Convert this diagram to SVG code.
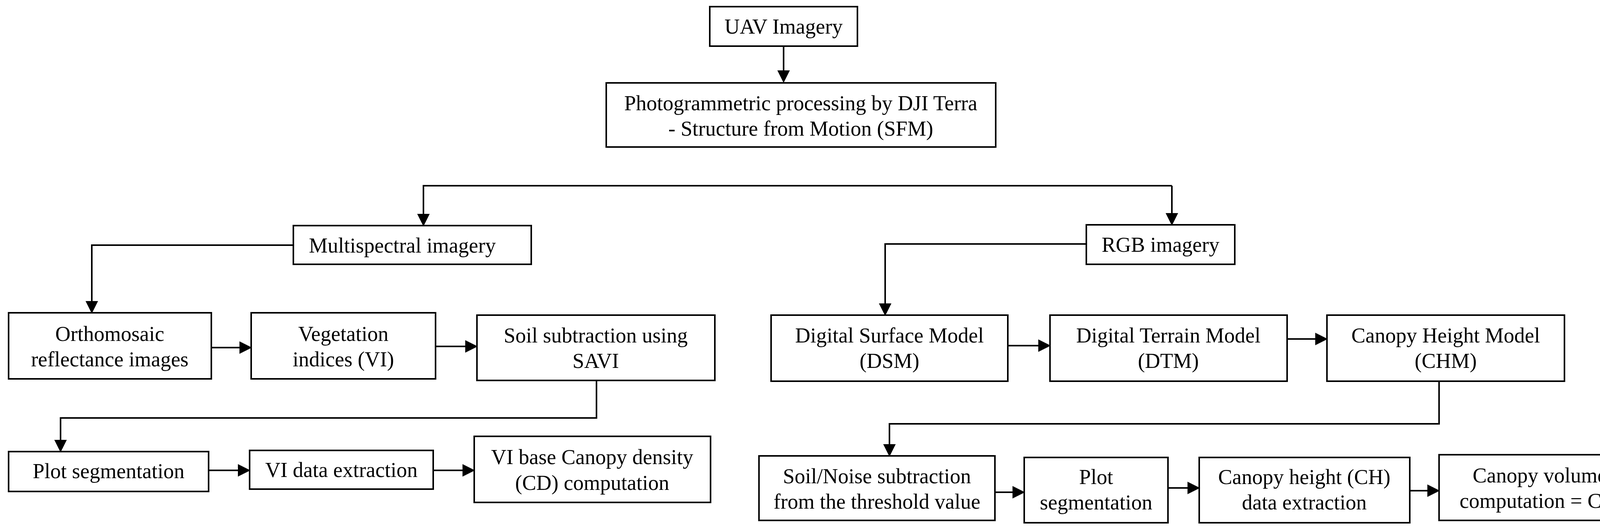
<svg xmlns="http://www.w3.org/2000/svg" width="4336" height="1353" viewBox="0 0 4336 1353">
<style>
.b{fill:#fff;stroke:#000;stroke-width:4}
.t{font-family:"Liberation Serif","Times New Roman",serif;font-size:54px;fill:#000;text-anchor:middle;dominant-baseline:central}
.c{fill:none;stroke:#000;stroke-width:4}
</style>
<defs><marker id="a" markerWidth="8" markerHeight="8" refX="7" refY="4" orient="auto" markerUnits="strokeWidth"><path d="M0,0L8,4L0,8Z" fill="#000"/></marker></defs>
<rect width="4336" height="1353" fill="#fff"/>
<g id="connectors">
<path class="c" marker-end="url(#a)" d="M2006,119V208"/>
<path class="c" marker-end="url(#a)" d="M3000,475H1084V575"/>
<path class="c" marker-end="url(#a)" d="M3000,475V573"/>
<path class="c" marker-end="url(#a)" d="M751,627H235V798"/>
<path class="c" marker-end="url(#a)" d="M541,889H641"/>
<path class="c" marker-end="url(#a)" d="M1115,886H1219"/>
<path class="c" marker-end="url(#a)" d="M1527,973V1069H155V1153"/>
<path class="c" marker-end="url(#a)" d="M534,1203H637"/>
<path class="c" marker-end="url(#a)" d="M1109,1203H1212"/>
<path class="c" marker-end="url(#a)" d="M2781,624H2266V804"/>
<path class="c" marker-end="url(#a)" d="M2580,884H2686"/>
<path class="c" marker-end="url(#a)" d="M3295,867H3395"/>
<path class="c" marker-end="url(#a)" d="M3684,975V1084H2277V1164"/>
<path class="c" marker-end="url(#a)" d="M2547,1259H2620"/>
<path class="c" marker-end="url(#a)" d="M2990,1248H3068"/>
<path class="c" marker-end="url(#a)" d="M3609,1255H3682"/>
</g>
<g id="uav"><rect class="b" x="1817" y="17" width="378" height="101"/><text class="t" x="2006" y="68">UAV Imagery</text></g>
<g id="photo"><rect class="b" x="1552" y="212" width="997" height="164"/><text class="t" x="2050" y="264">Photogrammetric processing by DJI Terra</text><text class="t" x="2050" y="329">- Structure from Motion (SFM)</text></g>
<g id="multi"><rect class="b" x="751" y="577" width="609" height="99"/><text class="t" x="1030" y="628">Multispectral imagery</text></g>
<g id="rgb"><rect class="b" x="2781" y="575" width="380" height="101"/><text class="t" x="2971" y="626">RGB imagery</text></g>
<g id="ortho"><rect class="b" x="22" y="800" width="519" height="169"/><text class="t" x="281" y="854">Orthomosaic</text><text class="t" x="281" y="919">reflectance images</text></g>
<g id="vi"><rect class="b" x="643" y="800" width="472" height="169"/><text class="t" x="879" y="854">Vegetation</text><text class="t" x="879" y="919">indices (VI)</text></g>
<g id="savi"><rect class="b" x="1221" y="806" width="609" height="167"/><text class="t" x="1525" y="858">Soil subtraction using</text><text class="t" x="1525" y="923">SAVI</text></g>
<g id="plot1"><rect class="b" x="22" y="1155" width="512" height="102"/><text class="t" x="278" y="1205">Plot segmentation</text></g>
<g id="vide"><rect class="b" x="639" y="1152" width="470" height="99"/><text class="t" x="874" y="1202">VI data extraction</text></g>
<g id="cd"><rect class="b" x="1214" y="1116" width="605" height="169"/><text class="t" x="1516" y="1169">VI base Canopy density</text><text class="t" x="1516" y="1235">(CD) computation</text></g>
<g id="dsm"><rect class="b" x="1974" y="806" width="606" height="169"/><text class="t" x="2277" y="858">Digital Surface Model</text><text class="t" x="2277" y="923">(DSM)</text></g>
<g id="dtm"><rect class="b" x="2688" y="806" width="607" height="169"/><text class="t" x="2991" y="858">Digital Terrain Model</text><text class="t" x="2991" y="923">(DTM)</text></g>
<g id="chm"><rect class="b" x="3397" y="806" width="608" height="169"/><text class="t" x="3701" y="858">Canopy Height Model</text><text class="t" x="3701" y="923">(CHM)</text></g>
<g id="noise"><rect class="b" x="1943" y="1166" width="604" height="165"/><text class="t" x="2245" y="1218">Soil/Noise subtraction</text><text class="t" x="2245" y="1283">from the threshold value</text></g>
<g id="plot2"><rect class="b" x="2622" y="1170" width="368" height="167"/><text class="t" x="2806" y="1220">Plot</text><text class="t" x="2806" y="1285">segmentation</text></g>
<g id="ch"><rect class="b" x="3070" y="1170" width="539" height="167"/><text class="t" x="3339" y="1220">Canopy height (CH)</text><text class="t" x="3339" y="1285">data extraction</text></g>
<g id="cv"><rect class="b" x="3684" y="1163" width="641" height="168"/><text class="t" x="4004" y="1216">Canopy volume (CV)</text><text class="t" x="4004" y="1281">computation = CD × CH</text></g>
</svg>
